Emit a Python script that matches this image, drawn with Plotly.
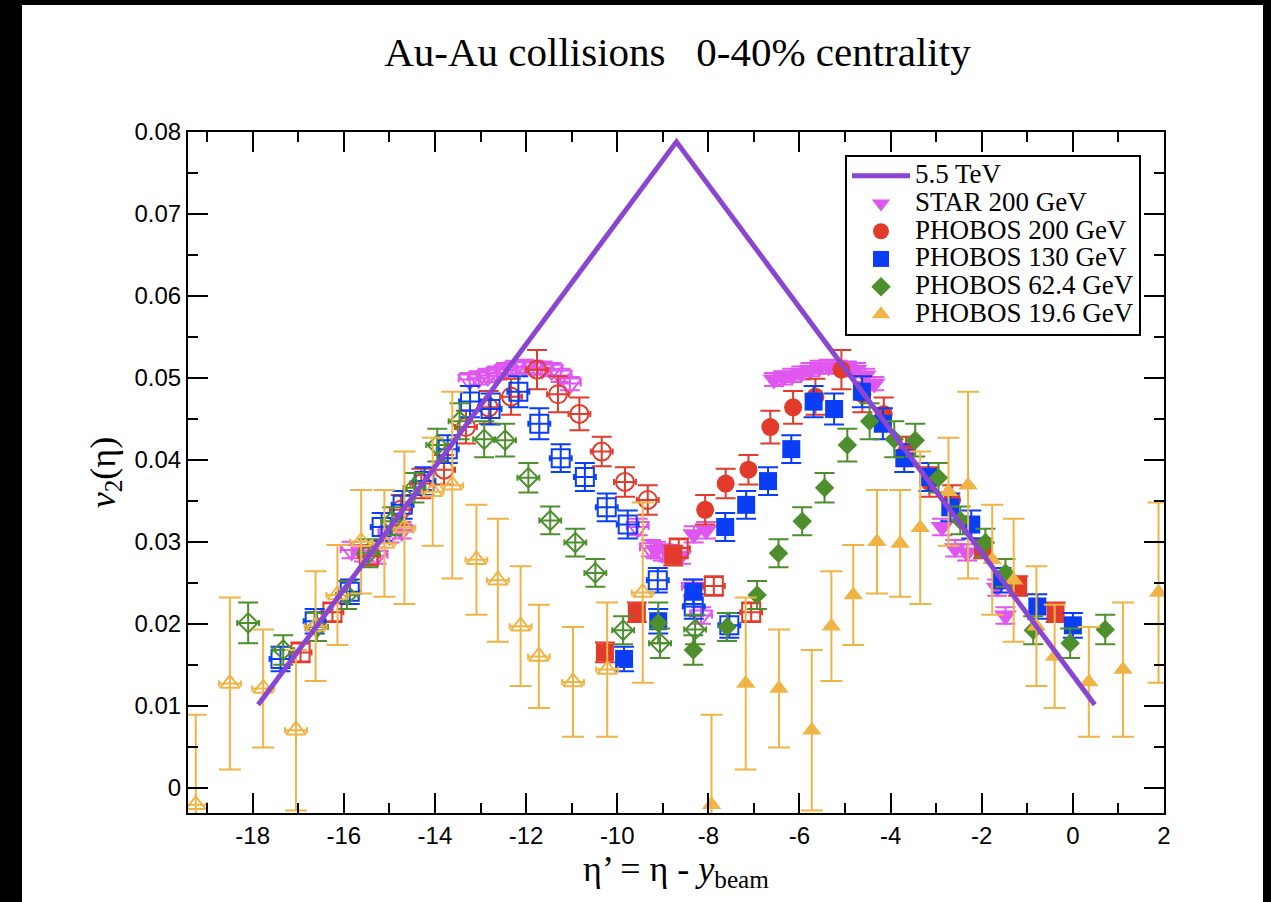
import plotly.graph_objects as go

# ---- data -------------------------------------------------------------
# 5.5 TeV extrapolation
lhc_x = [-17.88, -8.70, 0.48]
lhc_y = [0.0101, 0.0788, 0.0101]

# STAR 200 GeV (eta' = eta - y_beam) and the reflected copy
star_x = [-9.15, -8.88, -8.60, -8.32, -8.05,
          -6.56, -6.36, -6.16, -5.96, -5.76, -5.56, -5.36, -5.16, -4.96, -4.76, -4.56, -4.36,
          -2.87, -2.58, -2.32, -1.66, -1.48]
star_y = [0.0290, 0.0286, 0.0283, 0.0309, 0.0314,
          0.0498, 0.0500, 0.0503, 0.0506, 0.0510, 0.0513, 0.0514, 0.0513, 0.0512, 0.0510, 0.0503, 0.0493,
          0.0318, 0.0292, 0.0287, 0.0244, 0.0210]
star_err = [0.0010] * 5 + [0.0008] * 12 + [0.0010] * 5
star_x_refl = [-15.83, -15.56, -15.28, -15.00, -14.73,
               -13.24, -13.04, -12.84, -12.64, -12.44, -12.24, -12.04, -11.84, -11.64, -11.44, -11.24, -11.04,
               -9.55, -9.26, -9.00, -8.34, -8.16]

# PHOBOS 200 GeV: circles (octagon) and squares (rings)
p200c_x = [-8.07, -7.62, -7.12, -6.64, -6.14, -5.65, -5.08, -4.62, -4.15, -3.66, -3.15, -2.65]
p200c_y = [0.0339, 0.0371, 0.0388, 0.0440, 0.0464, 0.0477, 0.0510, 0.0480, 0.0456, 0.0410, 0.0373, 0.0351]
p200c_err = [0.0018, 0.0018, 0.0018, 0.0020, 0.0020, 0.0022, 0.0024, 0.0022, 0.0020, 0.0018, 0.0018, 0.0018]
p200c_x_refl = [-14.75, -14.30, -13.80, -13.32, -12.82, -12.33, -11.76, -11.30, -10.83, -10.34, -9.83, -9.33]
p200s_x = [-10.27, -9.57, -8.77, -1.97, -1.20, -0.38]
p200s_y = [0.0165, 0.0214, 0.0283, 0.0292, 0.0246, 0.0214]
p200s_err = [0.0012, 0.0012, 0.0012, 0.0012, 0.0012, 0.0012]
p200s_x_refl = [-16.95, -16.25, -15.45, -8.65, -7.88, -7.06]

# PHOBOS 130 GeV
p130_x = [-9.85, -9.10, -8.33, -7.63, -7.17, -6.69, -6.18, -5.69, -5.24,
          -4.63, -4.17, -3.70, -3.17, -2.69, -2.23, -1.57, -0.78, 0.00]
p130_y = [0.0157, 0.0203, 0.0239, 0.0318, 0.0345, 0.0374, 0.0413, 0.0471, 0.0462,
          0.0483, 0.0444, 0.0402, 0.0379, 0.0342, 0.0321, 0.0253, 0.0221, 0.0198]
p130_err = [0.0015, 0.0015, 0.0015, 0.0017, 0.0017, 0.0017, 0.0017, 0.0019, 0.0019,
            0.0019, 0.0019, 0.0017, 0.0017, 0.0017, 0.0017, 0.0015, 0.0015, 0.0015]
p130_x_refl = [-17.39, -16.64, -15.87, -15.17, -14.71, -14.23, -13.72, -13.23, -12.78,
               -12.17, -11.71, -11.24, -10.71, -10.23, -9.77, -9.11, -8.32, -7.54]

# PHOBOS 62.4 GeV
p62_x = [-9.10, -8.33, -7.59, -6.93, -6.46, -5.94, -5.45, -4.95, -4.46,
         -3.92, -3.46, -2.95, -2.47, -1.92, -1.48, -0.87, -0.06, 0.71]
p62_y = [0.0201, 0.0168, 0.0196, 0.0235, 0.0286, 0.0325, 0.0366, 0.0418, 0.0447,
         0.0425, 0.0424, 0.0378, 0.0326, 0.0299, 0.0262, 0.0192, 0.0176, 0.0193]
p62_err = [0.0025, 0.0018, 0.0017, 0.0017, 0.0017, 0.0017, 0.0018, 0.0020, 0.0022,
           0.0022, 0.0020, 0.0018, 0.0017, 0.0017, 0.0017, 0.0017, 0.0018, 0.0018]
p62_x_refl = [-18.10, -17.33, -16.59, -15.93, -15.46, -14.94, -14.45, -13.95, -13.46,
              -12.92, -12.46, -11.95, -11.47, -10.92, -10.48, -9.87, -9.06, -8.29]

# PHOBOS 19.6 GeV
p19_x = [-7.93, -7.18, -6.45, -5.73, -5.30, -4.82, -4.30, -3.79, -3.35,
         -2.73, -2.30, -1.77, -1.30, -0.80, -0.40, 0.35, 1.10, 1.88]
p19_y = [-0.0021, 0.0127, 0.0121, 0.0070, 0.0197, 0.0235, 0.0300, 0.0298, 0.0317,
         0.0361, 0.0369, 0.0278, 0.0253, 0.0197, 0.0160, 0.0129, 0.0144, 0.0238]
p19_err = [0.0110, 0.0105, 0.0072, 0.0098, 0.0067, 0.0061, 0.0063, 0.0065, 0.0093,
           0.0066, 0.0114, 0.0067, 0.0075, 0.0073, 0.0063, 0.0067, 0.0082, 0.0110]
p19_x_refl = [-19.25, -18.50, -17.77, -17.05, -16.62, -16.14, -15.62, -15.11, -14.67,
              -14.05, -13.62, -13.09, -12.62, -12.12, -11.72, -10.97, -10.22, -9.44]

# axis ticks
x_tick_vals = [-18, -16, -14, -12, -10, -8, -6, -4, -2, 0, 2]
x_tick_text = ["-18", "-16", "-14", "-12", "-10", "-8", "-6", "-4", "-2", "0", "2"]
y_tick_vals = [0, 0.01, 0.02, 0.03, 0.04, 0.05, 0.06, 0.07, 0.08]
y_tick_text = ["0", "0.01", "0.02", "0.03", "0.04", "0.05", "0.06", "0.07", "0.08"]

# ---- styling ----------------------------------------------------------
SERIF = "Liberation Serif"
SANS = "Liberation Sans"
C_LHC = "#8a45d2"
C_STAR = "#e056f0"
C_P200 = "#e23b2b"
C_P130 = "#0a3ef5"
C_P62 = "#4c8f2c"
C_P19 = "#f0b446"

W, H = 1271, 902
ML, MR, MT, MB = 188, 107, 132, 89

fig = go.Figure()


def legend_label(text):
    # larger glyphs than the legend's nominal font keeps rows compact
    return '<span style="font-size:27px">' + text + "</span>"


def add_points(x, y, err, color, symbol, size, name=None, legend=False,
               group=None, rank=10, open_marker=False, ethick=2, ewidth=10):
    marker = dict(color=color, symbol=symbol + ("-open" if open_marker else ""),
                  size=size, line=dict(width=2 if open_marker else 0, color=color))
    trace = go.Scatter(
        x=x, y=y, mode="markers", marker=marker,
        error_y=dict(type="data", array=err, color=color, thickness=ethick, width=ewidth),
        name=legend_label(name) if name else None, showlegend=legend,
        legendgroup=group, legendrank=rank,
    )
    if open_marker:
        trace.error_x = dict(type="constant", value=0.24, color=color, thickness=ethick, width=3)
    fig.add_trace(trace)


# STAR
add_points(star_x, star_y, star_err, C_STAR, "triangle-down", 20,
           name="STAR 200 GeV", legend=True, group="star", rank=2)
add_points(star_x_refl, star_y, star_err, C_STAR, "triangle-down", 20,
           group="star", open_marker=True)
# PHOBOS 200
add_points(p200c_x, p200c_y, p200c_err, C_P200, "circle", 18,
           name="PHOBOS 200 GeV", legend=True, group="p200", rank=3)
add_points(p200s_x, p200s_y, p200s_err, C_P200, "square", 18, group="p200")
add_points(p200c_x_refl, p200c_y, p200c_err, C_P200, "circle", 18, group="p200", open_marker=True)
add_points(p200s_x_refl, p200s_y, p200s_err, C_P200, "square", 18, group="p200", open_marker=True)
# PHOBOS 130
add_points(p130_x, p130_y, p130_err, C_P130, "square", 18,
           name="PHOBOS 130 GeV", legend=True, group="p130", rank=4)
add_points(p130_x_refl, p130_y, p130_err, C_P130, "square", 18, group="p130", open_marker=True)
# PHOBOS 62.4
add_points(p62_x, p62_y, p62_err, C_P62, "diamond", 15,
           name="PHOBOS 62.4 GeV", legend=True, group="p62", rank=5)
add_points(p62_x_refl, p62_y, p62_err, C_P62, "diamond", 15, group="p62", open_marker=True)
# PHOBOS 19.6
add_points(p19_x, p19_y, p19_err, C_P19, "triangle-up", 17,
           name="PHOBOS 19.6 GeV", legend=True, group="p19", rank=6, ewidth=11)
add_points(p19_x_refl, p19_y, p19_err, C_P19, "triangle-up", 17, group="p19",
           open_marker=True, ewidth=11)

# 5.5 TeV line on top
fig.add_trace(go.Scatter(
    x=lhc_x, y=lhc_y, mode="lines", line=dict(color=C_LHC, width=5),
    name=legend_label("5.5 TeV"), showlegend=True, legendrank=1,
))

# black frame strips around the page
pw, ph = W - ML - MR, H - MT - MB


def px_x(p):
    return (p - ML) / pw


def px_y(p):
    return (H - MB - p) / ph


shapes = [
    dict(type="rect", xref="paper", yref="paper", x0=px_x(0), x1=px_x(22),
         y0=px_y(H), y1=px_y(0), fillcolor="black", line=dict(width=0), layer="below"),
    dict(type="rect", xref="paper", yref="paper", x0=px_x(1263), x1=px_x(W),
         y0=px_y(H), y1=px_y(0), fillcolor="black", line=dict(width=0), layer="below"),
    dict(type="rect", xref="paper", yref="paper", x0=px_x(0), x1=px_x(W),
         y0=px_y(5), y1=px_y(0), fillcolor="black", line=dict(width=0), layer="below"),
]

axis_common = dict(
    showline=True, linewidth=2, linecolor="black", mirror="allticks",
    ticks="inside", ticklen=20, tickwidth=2, tickcolor="black",
    showgrid=False, zeroline=False, automargin=False,
    tickfont=dict(family=SANS, size=24, color="black"),
)

fig.update_layout(
    width=W, height=H,
    margin=dict(l=ML, r=MR, t=MT, b=MB),
    paper_bgcolor="white", plot_bgcolor="white",
    shapes=shapes,
    title=dict(text="Au-Au collisions\u00a0\u00a0 0-40% centrality",
               font=dict(family=SERIF, size=41, color="black"),
               x=0.533, xanchor="center", y=1 - 52 / H, yanchor="middle"),
    xaxis=dict(
        range=[-19.42, 2.0], tickvals=x_tick_vals, ticktext=x_tick_text,
        minor=dict(dtick=1, tick0=0, ticks="inside", ticklen=10, tickwidth=2, tickcolor="black"),
        title=dict(text="η\u2019 = η - <i>y</i><sub>beam</sub>",
                   font=dict(family=SERIF, size=36, color="black"), standoff=6),
        **axis_common,
    ),
    yaxis=dict(
        range=[-0.0031, 0.08], tickvals=y_tick_vals, ticktext=y_tick_text,
        minor=dict(dtick=0.005, tick0=0, ticks="inside", ticklen=10, tickwidth=2, tickcolor="black"),
        title=dict(text="<i>v</i><sub>2</sub>(η)",
                   font=dict(family=SERIF, size=36, color="black"), standoff=8),
        **axis_common,
    ),
    legend=dict(
        x=px_x(845), y=px_y(155), xanchor="left", yanchor="top",
        bgcolor="white", bordercolor="black", borderwidth=2,
        font=dict(family=SERIF, size=19, color="black"),
        itemwidth=58, tracegroupgap=0,
    ),
)

fig.write_html("out.html")
